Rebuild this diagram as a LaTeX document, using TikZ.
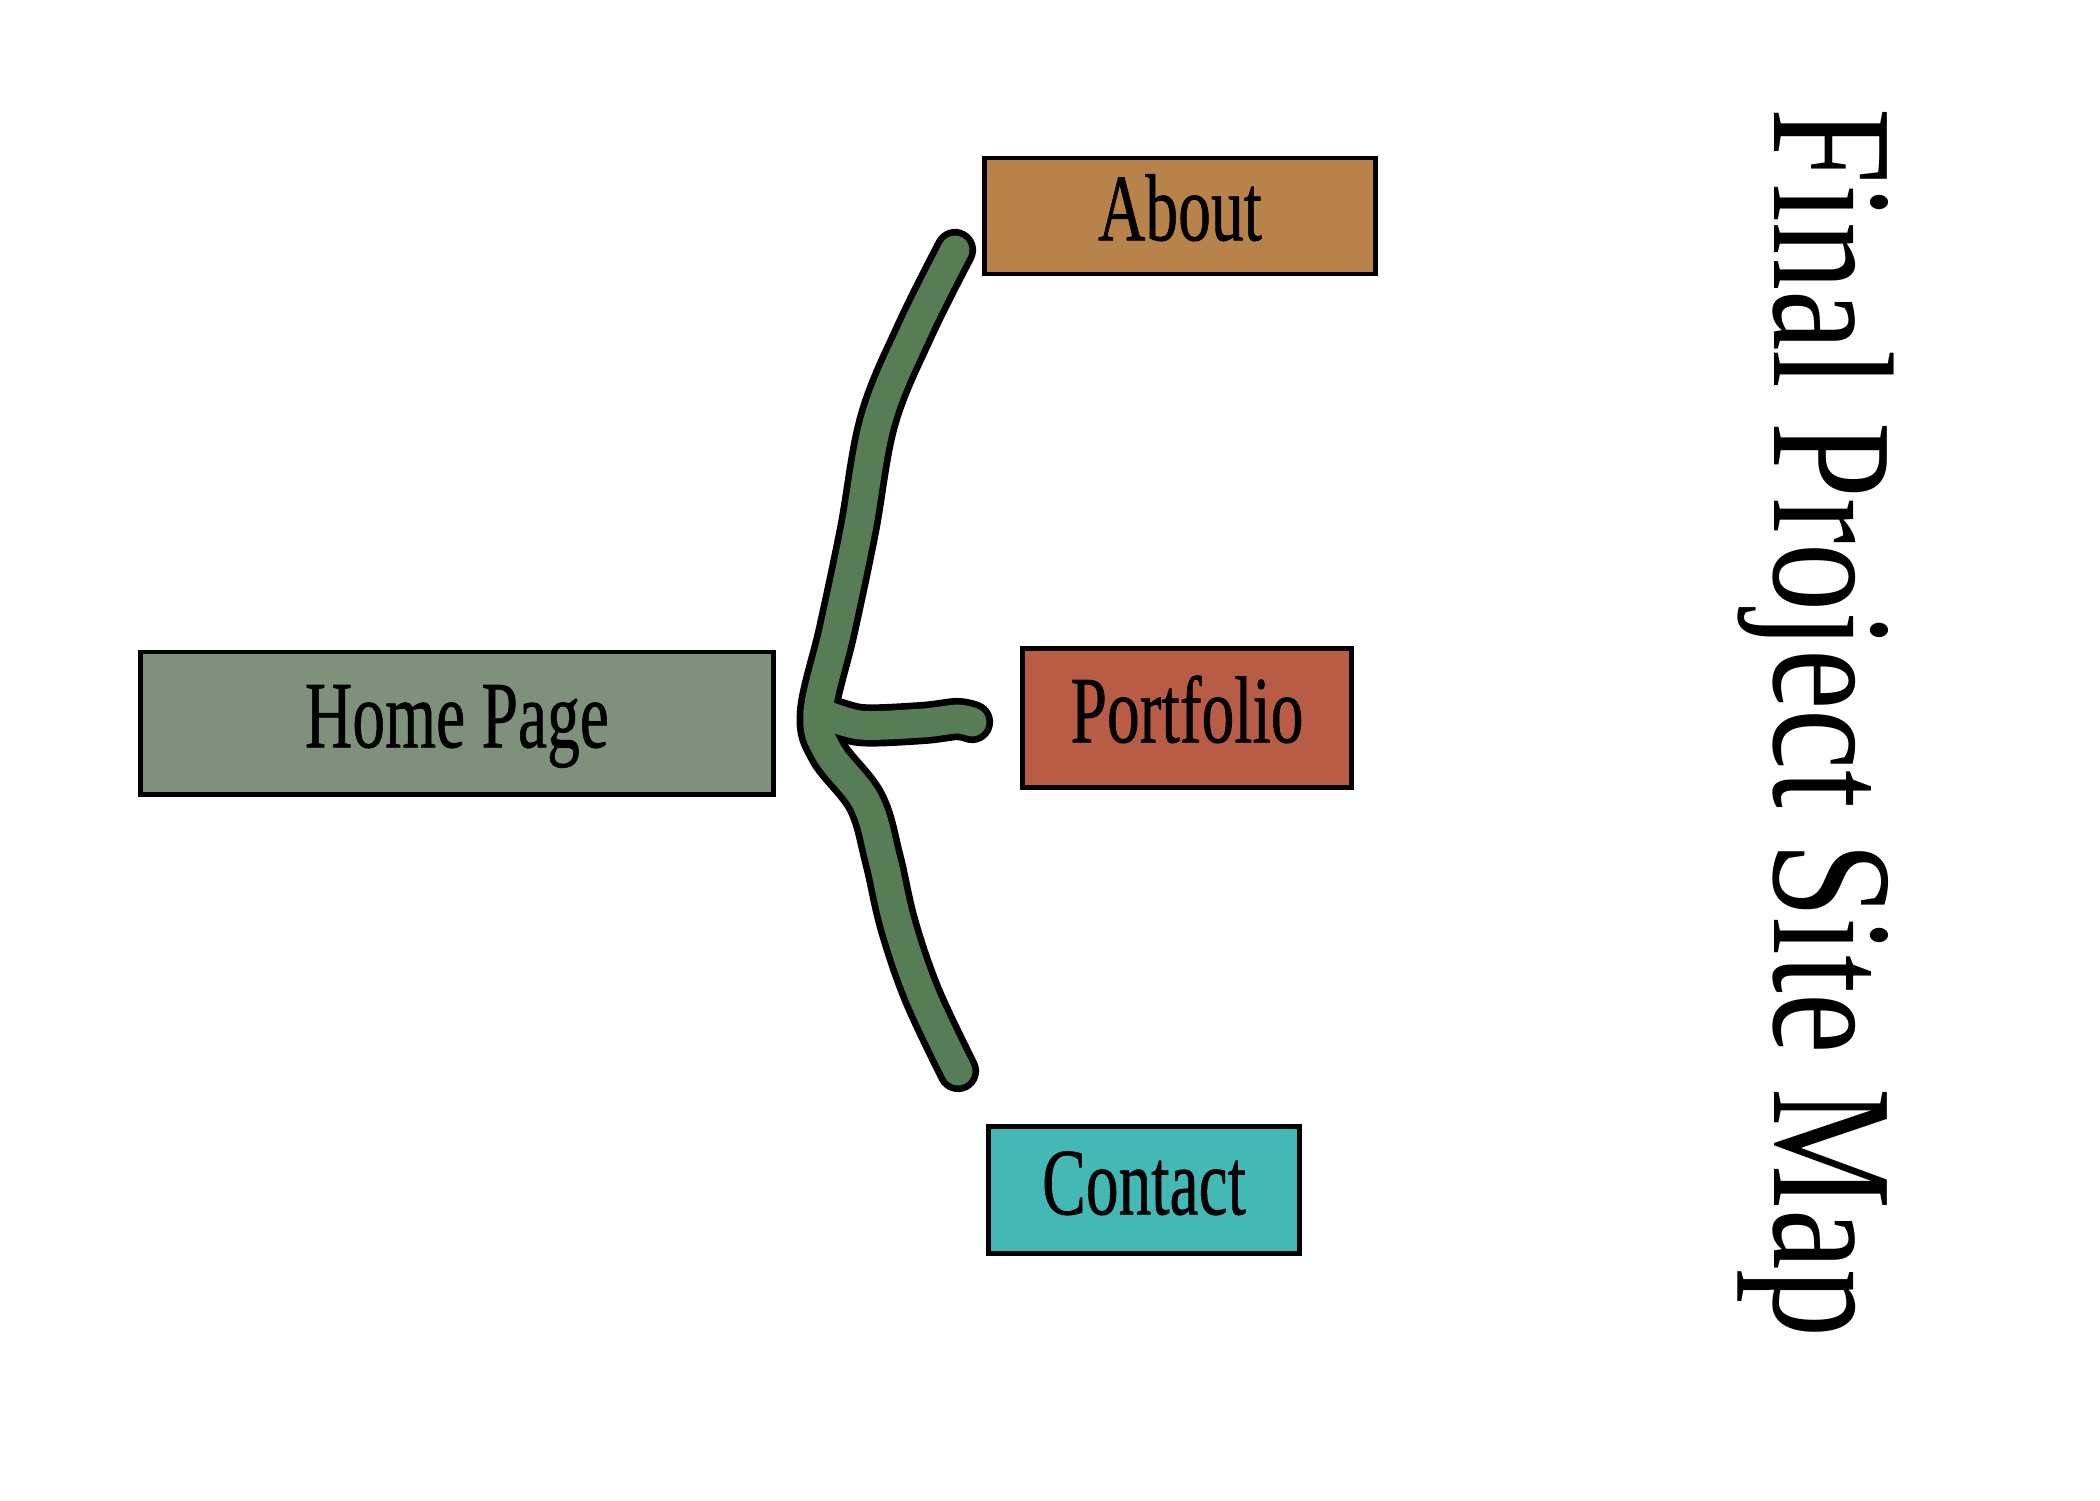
\documentclass[tikz,border=0pt]{standalone}
\usepackage{fontspec}
\setmainfont{Liberation Serif}
\newfontfamily\labelfont[FakeBold=0.8]{Liberation Serif}
\usepackage{graphicx}
\newcommand{\narrowtext}[2][0.69]{\scalebox{#1}[1]{#2}}
\definecolor{homegreen}{HTML}{7E917B}
\definecolor{aboutbrown}{HTML}{B8834A}
\definecolor{portred}{HTML}{B85C45}
\definecolor{contactteal}{HTML}{44B8B5}
\definecolor{bracegreen}{HTML}{567D55}
\tikzset{
  pagebox/.style={draw=black, line width=1.4pt, inner sep=0pt,
    text height=17.8pt, text depth=4pt, font=\labelfont\fontsize{27}{30}\selectfont},
}

\begin{document}
\begin{tikzpicture}[x=0.01cm, y=-0.01cm]
  \useasboundingbox (0,0) rectangle (2100,1500);
  \node[pagebox, fill=homegreen, minimum width=6.33cm, minimum height=1.42cm] (home) at (457,723) {\narrowtext{Home Page}};
  \node[pagebox, fill=aboutbrown, minimum width=3.9cm, minimum height=1.16cm] (about) at (1180,216) {\narrowtext{About}};
  \node[pagebox, fill=portred, minimum width=3.28cm, minimum height=1.39cm] (portfolio) at (1187,718) {\narrowtext{Portfolio}};
  \node[pagebox, fill=contactteal, minimum width=3.1cm, minimum height=1.27cm] (contact) at (1144,1190) {\narrowtext{Contact}};
  \node[rotate=-90, anchor=base, font=\fontsize{49}{55}\selectfont] (title) at (1774,723) {\narrowtext[0.79]{Final Project Site Map}};
  % hand drawn brace
  \coordinate (toabout) at (955,250);
  \coordinate (toport) at (972,722);
  \coordinate (tocontact) at (958,1071);
  \coordinate (fork) at (818,712);
  \foreach \col/\wd in {black/12pt, bracegreen/8.2pt} {
    \draw[\col, line width=\wd, line cap=round, line join=round] plot[smooth, tension=.6] coordinates {(toabout) (915,330) (878,420) (858,530) (837,630) (fork) (828,752) (866,802) (883,860) (898,925) (922,995) (tocontact)};
    \draw[\col, line width=\wd, line cap=round, line join=round] plot[smooth, tension=.5] coordinates {(fork) (860,725) (923,723) (957,719) (toport)};
  }
\end{tikzpicture}
\end{document}
